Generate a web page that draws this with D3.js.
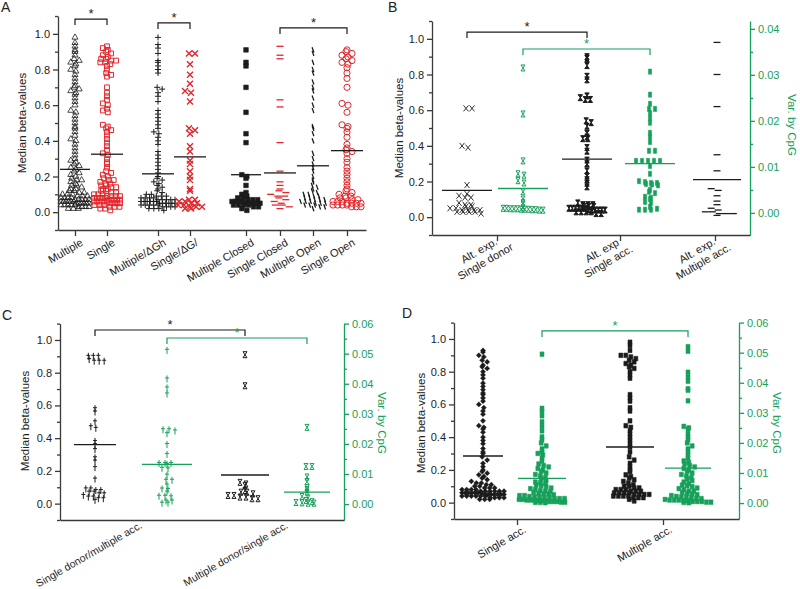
<!DOCTYPE html>
<html><head><meta charset="utf-8">
<script src="https://cdn.jsdelivr.net/npm/d3@7/dist/d3.min.js"></script>
<style>body{margin:0;background:#fff} svg{display:block} text{font-family:"Liberation Sans",Arial,sans-serif}</style>
</head><body><svg id="c" width="800" height="589"></svg>
<script>
// ---------------- DATA ----------------
// Panel A (median beta-values)
const A_categories = ["Multiple","Single","Multiple/ΔGh","Single/ΔG/","Multiple Closed","Single Closed","Multiple Open","Single Open"];
const A_multiple = [0.98,0.95,0.93,0.91,0.9,0.88,0.86,0.85,0.84,0.83,0.82,0.8,0.79,0.77,0.75,0.73,0.71,0.7,0.69,0.68,0.67,0.66,0.64,0.62,0.6,0.57,0.56,0.54,0.52,0.5,0.48,0.47,0.45,0.43,0.41,0.4,0.38,0.36,0.34,0.32,0.3,0.29,0.28,0.27,0.26,0.25,0.24,0.23,0.22,0.21,0.2,0.19,0.18,0.18,0.17,0.16,0.15,0.15,0.14,0.13,0.13,0.12,0.12,0.11,0.11,0.1,0.1,0.1,0.09,0.09,0.09,0.08,0.08,0.08,0.08,0.07,0.07,0.07,0.07,0.07,0.06,0.06,0.06,0.06,0.06,0.06,0.05,0.05,0.05,0.05,0.05,0.05,0.04,0.04,0.04,0.04,0.04,0.03,0.03,0.03,0.03,0.02,0.02,0.02];
const A_single = [0.93,0.92,0.91,0.9,0.89,0.88,0.87,0.86,0.86,0.85,0.85,0.84,0.84,0.83,0.82,0.8,0.78,0.77,0.76,0.7,0.67,0.65,0.63,0.61,0.6,0.58,0.57,0.56,0.49,0.48,0.47,0.46,0.45,0.43,0.41,0.39,0.37,0.35,0.33,0.32,0.3,0.28,0.27,0.25,0.23,0.22,0.21,0.2,0.19,0.18,0.18,0.17,0.16,0.16,0.15,0.15,0.14,0.14,0.13,0.13,0.12,0.12,0.11,0.11,0.1,0.1,0.1,0.09,0.09,0.09,0.09,0.08,0.08,0.08,0.08,0.08,0.07,0.07,0.07,0.07,0.07,0.06,0.06,0.06,0.06,0.06,0.05,0.05,0.05,0.05,0.04,0.04,0.04,0.03,0.03,0.03,0.02,0.02,0.01];
const A_multipleDG = [0.98,0.94,0.92,0.89,0.85,0.84,0.82,0.8,0.78,0.7,0.69,0.67,0.65,0.62,0.57,0.55,0.53,0.51,0.49,0.47,0.45,0.44,0.42,0.4,0.38,0.34,0.32,0.3,0.28,0.26,0.24,0.22,0.2,0.19,0.18,0.17,0.16,0.15,0.14,0.13,0.12,0.11,0.1,0.1,0.09,0.09,0.09,0.08,0.08,0.08,0.08,0.07,0.07,0.07,0.07,0.07,0.06,0.06,0.06,0.06,0.06,0.06,0.05,0.05,0.05,0.05,0.05,0.05,0.04,0.04,0.04,0.04,0.04,0.03,0.03,0.03,0.03,0.02,0.02,0.02,0.01];
const A_singleDG = [0.89,0.89,0.83,0.77,0.72,0.68,0.67,0.62,0.47,0.46,0.44,0.37,0.34,0.29,0.27,0.23,0.2,0.18,0.13,0.12,0.07,0.07,0.06,0.06,0.05,0.05,0.04,0.04,0.03,0.03,0.03,0.02,0.02];
const A_multipleClosed = [0.91,0.84,0.82,0.7,0.56,0.44,0.39,0.21,0.2,0.19,0.15,0.11,0.1,0.09,0.08,0.08,0.07,0.07,0.07,0.06,0.06,0.06,0.06,0.05,0.05,0.05,0.05,0.05,0.04,0.04,0.04,0.04,0.03,0.03,0.02,0.01];
const A_singleClosed = [0.93,0.88,0.86,0.63,0.59,0.39,0.23,0.17,0.15,0.13,0.12,0.11,0.1,0.09,0.09,0.08,0.07,0.06,0.05,0.04,0.04,0.03,0.02];
const A_multipleOpen = [0.91,0.89,0.84,0.8,0.78,0.73,0.7,0.68,0.64,0.6,0.57,0.48,0.47,0.44,0.4,0.33,0.3,0.27,0.25,0.23,0.2,0.18,0.17,0.15,0.14,0.13,0.12,0.11,0.1,0.1,0.09,0.09,0.08,0.08,0.07,0.07,0.07,0.06,0.06,0.06,0.05,0.05,0.05,0.04,0.04,0.04,0.03,0.03,0.02];
const A_singleOpen = [0.91,0.9,0.89,0.88,0.87,0.86,0.85,0.84,0.83,0.81,0.78,0.75,0.7,0.61,0.6,0.56,0.49,0.48,0.47,0.45,0.42,0.38,0.36,0.35,0.34,0.33,0.3,0.28,0.25,0.23,0.21,0.19,0.17,0.15,0.13,0.12,0.11,0.1,0.09,0.09,0.08,0.08,0.07,0.07,0.06,0.06,0.06,0.05,0.05,0.05,0.05,0.04,0.04,0.04,0.04,0.03,0.03,0.03];
const A_medians = [0.24,0.325,0.215,0.31,0.21,0.22,0.26,0.345];

// Panel B (black: median beta-values, green: Var. by CpG)
const B_categories = [["Alt. exp.","Single donor"],["Alt. exp","Single acc."],["Alt. exp.","Multiple acc."]];
const B_donorBeta = [0.61,0.61,0.4,0.39,0.18,0.13,0.12,0.11,0.11,0.08,0.07,0.07,0.06,0.06,0.05,0.05,0.04,0.04,0.04,0.04,0.03,0.03,0.03,0.03,0.02];
const B_donorVar = [0.0315,0.0215,0.0113,0.0085,0.0082,0.007,0.0065,0.0046,0.003,0.0022,0.0011,0.001,0.001,0.0009,0.0009,0.0009,0.0008,0.0008,0.0008,0.0007,0.0007,0.0006,0.0006];
const B_singleAccBeta = [0.9,0.89,0.85,0.79,0.77,0.68,0.67,0.66,0.66,0.54,0.53,0.51,0.47,0.45,0.44,0.44,0.39,0.37,0.32,0.3,0.26,0.23,0.21,0.19,0.17,0.08,0.07,0.07,0.07,0.06,0.06,0.06,0.05,0.05,0.05,0.05,0.05,0.05,0.04,0.04,0.04,0.04,0.04,0.04,0.03,0.03,0.03,0.03,0.02,0.02];
const B_singleAccVar = [0.0307,0.0257,0.0237,0.0226,0.0226,0.0217,0.0206,0.0196,0.0174,0.0165,0.0154,0.0135,0.0135,0.0113,0.0113,0.0113,0.0113,0.0113,0.0102,0.0085,0.0069,0.0067,0.0065,0.0065,0.0063,0.0062,0.006,0.005,0.0046,0.0043,0.0035,0.0033,0.003,0.0024,0.0022,0.0013,0.0007,0.0007,0.0007,0.0009];
const B_multiAccBeta = [0.98,0.8,0.62,0.35,0.26,0.16,0.15,0.12,0.09,0.07,0.05,0.04,0.03,0.03,0.02,0.02,0.02,0.01];
const B_medians = [0.15,0.0053,0.325,0.0107,0.21];

// Panel C
const C_categories = ["Single donor/multiple acc.","Multiple donor/single acc."];
const C_sdmaBeta = [0.9,0.9,0.9,0.88,0.87,0.87,0.87,0.58,0.56,0.5,0.47,0.46,0.38,0.36,0.33,0.28,0.26,0.22,0.15,0.09,0.09,0.08,0.08,0.07,0.07,0.06,0.06,0.05,0.04,0.04,0.03,0.03,0.02];
const C_sdmaVar = [0.0511,0.0416,0.0386,0.0366,0.0247,0.0247,0.0243,0.0234,0.0198,0.0165,0.0135,0.0135,0.0135,0.0132,0.0119,0.0117,0.0096,0.0079,0.0079,0.0063,0.005,0.0048,0.004,0.0026,0.0026,0.0024,0.001,0.001,0.0003,0.0003];
const C_mdsaBeta = [0.91,0.72,0.13,0.12,0.11,0.08,0.07,0.07,0.06,0.05,0.05,0.04,0.04,0.03,0.03];
const C_mdsaVar = [0.0255,0.0125,0.0125,0.009,0.0075,0.0055,0.0048,0.004,0.0025,0.002,0.0012,0.0008,0.0005,0.0004,0.0003,0.0003];
const C_medians = [0.36,0.0132,0.175,0.004];

// Panel D
const D_categories = ["Single acc.","Multiple acc."];
const D_singleBeta = [0.93,0.92,0.9,0.89,0.87,0.86,0.84,0.83,0.82,0.8,0.78,0.76,0.73,0.71,0.69,0.67,0.66,0.64,0.62,0.6,0.58,0.56,0.54,0.5,0.47,0.46,0.45,0.43,0.4,0.38,0.36,0.33,0.31,0.3,0.28,0.26,0.24,0.22,0.2,0.19,0.18,0.17,0.16,0.15,0.14,0.13,0.12,0.12,0.11,0.11,0.1,0.1,0.09,0.09,0.09,0.08,0.08,0.08,0.08,0.07,0.07,0.07,0.07,0.07,0.07,0.06,0.06,0.06,0.06,0.06,0.06,0.06,0.05,0.05,0.05,0.05,0.05,0.05,0.05,0.04,0.04,0.04,0.04,0.04,0.04,0.03,0.03,0.03,0.03,0.02,0.02,0.02];
const D_singleVar = [0.0495,0.0315,0.0305,0.029,0.027,0.0255,0.024,0.022,0.021,0.02,0.019,0.018,0.017,0.0165,0.016,0.015,0.014,0.013,0.0125,0.012,0.0115,0.011,0.0105,0.01,0.0095,0.009,0.0085,0.008,0.0075,0.007,0.0068,0.0065,0.006,0.0058,0.0055,0.005,0.0048,0.0045,0.0042,0.004,0.0038,0.0035,0.0032,0.003,0.003,0.0028,0.0025,0.0025,0.0022,0.002,0.002,0.0018,0.0018,0.0015,0.0015,0.0015,0.0012,0.0012,0.001,0.001,0.001,0.0008,0.0008,0.0008,0.0005,0.0005,0.0005,0.0003,0.0003,0.0002,0.0002,0.0001];
const D_multiBeta = [0.98,0.96,0.93,0.9,0.9,0.89,0.88,0.87,0.86,0.85,0.84,0.83,0.82,0.8,0.78,0.76,0.66,0.64,0.62,0.58,0.56,0.5,0.47,0.46,0.44,0.42,0.4,0.38,0.36,0.34,0.31,0.28,0.26,0.24,0.22,0.2,0.19,0.17,0.16,0.15,0.14,0.13,0.12,0.11,0.1,0.1,0.09,0.09,0.08,0.08,0.08,0.07,0.07,0.07,0.06,0.06,0.06,0.06,0.05,0.05,0.05,0.05,0.04,0.04,0.04,0.04,0.03,0.03,0.03,0.02,0.01];
const D_multiVar = [0.052,0.0505,0.0435,0.042,0.0405,0.038,0.0375,0.034,0.0255,0.025,0.0245,0.023,0.022,0.021,0.02,0.019,0.018,0.017,0.016,0.015,0.014,0.0135,0.013,0.0125,0.012,0.0115,0.011,0.0105,0.01,0.0095,0.009,0.0085,0.008,0.0075,0.007,0.0065,0.006,0.0058,0.0055,0.005,0.0048,0.0045,0.004,0.004,0.0035,0.0032,0.003,0.0028,0.0025,0.0022,0.002,0.002,0.0018,0.0015,0.0015,0.0012,0.001,0.001,0.001,0.0008,0.0008,0.0005,0.0005,0.0005,0.0003,0.0003,0.0002,0.0001];
const D_medians = [0.285,0.0082,0.34,0.0116];

const Y_ticks = [0,0.2,0.4,0.6,0.8,1.0];
const B_rightTicks = [0,0.01,0.02,0.03,0.04];
const CD_rightTicks = [0,0.01,0.02,0.03,0.04,0.05,0.06];

// ---------------- STYLE / LAYOUT ----------------
const BLACK = "#1c1c1c", RED = "#e3262b", GREEN = "#17a05a", AXIS = "#3a3a3a";
const SYM = {
  tri:  {d: d3.symbol(d3.symbolTriangle, 16)(), fill:false, sw:0.8},
  sq:   {d: "M-2.4,-2.4h4.8v4.8h-4.8z", fill:false, sw:1},
  plus: {d: "M-3,0h6M0,-3v6", fill:false, sw:1},
  xth:  {d: "M-3,-3L3,3M-3,3L3,-3", fill:false, sw:1.4},
  box:  {d: "M-2.3,-2.3h4.6v4.6h-4.6z", fill:true, sw:0.6},
  hd:   {d: "M-3.5,0h7", fill:false, sw:1.3},
  sl:   {d: "M-0.9,-2.6L0.9,2.6", fill:false, sw:1.3},
  circ: {d: d3.symbol(d3.symbolCircle, 30)(), fill:false, sw:1},
  x:    {d: "M-2.5,-3L2.5,3M-2.5,3L2.5,-3", fill:false, sw:0.9},
  hg:   {d: "M-2,-3H2L-2,3H2Z", fill:false, sw:1},
  hgf:  {d: "M-2.2,-3H2.2L-2.2,3H2.2Z", fill:true, sw:1},
  ib:   {d: "M-1.6,-2.6h3.2v5.2h-3.2z", fill:true, sw:0.5},
  dag:  {d: "M0,-3.5v7M-2,-1h4", fill:false, sw:1},
  dia:  {d: "M0,-2.6L2.6,0L0,2.6L-2.6,0Z", fill:true, sw:0.4},
  fsq:  {d: "M-2,-2.3h4v4.6h-4z", fill:true, sw:0.5}
};

function swarm(values, y, cx, hw, bin, sp) {
  const pts = values.map(v => ({v, y: y(v)}));
  const bins = d3.group(pts, p => Math.round(p.y / bin));
  for (const [k, arr] of bins) {
    const n = arr.length;
    const s = n > 1 ? Math.min(sp, 2 * hw / (n - 1)) : 0;
    const shift = (n < 2 * hw / sp) ? ((k % 2) ? s / 3 : -s / 3) : 0;
    arr.forEach((p, i) => { p.x = cx + (i - (n - 1) / 2) * s + shift; });
  }
  return pts;
}

const svg = d3.select("#c");
const fmt1 = d3.format(".1f"), fmt2 = d3.format(".2f");
const range = (a, b, s) => d3.range(a, b + s / 2, s);

function panel(p) {
  const g = svg.append("g");
  const yL = d3.scaleLinear().domain([-0.1, 1.1]).range([p.yBot, p.yTop]);
  const yR = p.rDomain ? d3.scaleLinear().domain(p.rDomain).range([p.yBot, p.yTop]) : null;
  const xs = d3.scaleOrdinal().domain(p.groups.map((d, i) => i)).range(p.groups.map(d => d.cx));

  p.groups.forEach((gr, i) => {
    const ys = gr.axis === "R" ? yR : yL;
    const col = gr.color, s = SYM[gr.sym];
    const pts = swarm(gr.values, ys, xs(i), gr.hw, gr.bin || 3.5, gr.sp || 5);
    const gg = g.append("g");
    gg.selectAll("path").data(pts).join("path")
      .attr("transform", d => `translate(${d.x},${d.y})`)
      .attr("d", s.d)
      .attr("fill", s.fill ? col : "none")
      .attr("stroke", col).attr("stroke-width", s.sw);
    g.append("line")
      .attr("x1", xs(i) - gr.mhw).attr("x2", xs(i) + gr.mhw)
      .attr("y1", ys(p.medians[i])).attr("y2", ys(p.medians[i]))
      .attr("stroke", col === RED ? BLACK : col).attr("stroke-width", 1.3);
  });

  const aL = g.append("g").attr("transform", `translate(${p.xL},0)`)
    .call(d3.axisLeft(yL).tickValues(Y_ticks).tickFormat(fmt1).tickSize(5).tickSizeOuter(0));
  g.append("g").attr("transform", `translate(${p.xL},0)`)
    .call(d3.axisLeft(yL).tickValues(range(-0.1, 1.1, 0.2)).tickFormat("").tickSize(3).tickSizeOuter(0))
    .select(".domain").remove();
  if (yR) {
    g.append("g").attr("transform", `translate(${p.xR},0)`)
      .call(d3.axisRight(yR).tickValues(p.rTicks).tickFormat(fmt2).tickSize(5).tickSizeOuter(0))
      .attr("class", "raxis");
    g.append("g").attr("transform", `translate(${p.xR},0)`)
      .call(d3.axisRight(yR).tickValues(p.rTicks.slice(0, -1).map(t => t + 0.005)).tickFormat("").tickSize(3).tickSizeOuter(0))
      .attr("class", "raxis").select(".domain").remove();
    g.selectAll(".raxis path, .raxis line").attr("stroke", GREEN).attr("stroke-width", 1.3);
    g.selectAll(".raxis text").attr("fill", GREEN).attr("font-size", 11).attr("font-family", '"Liberation Sans",Arial,sans-serif');
    g.append("text").attr("transform", `translate(${p.rLabel[0]},${p.rLabel[1]}) rotate(90)`)
      .attr("text-anchor", "middle").attr("fill", GREEN).attr("font-size", 11.5).text("Var. by CpG");
  }
  const xb = d3.scaleLinear().domain([p.xL, p.xEnd]).range([p.xL, p.xEnd]);
  g.append("g").attr("transform", `translate(0,${p.yBot})`)
    .call(d3.axisBottom(xb).tickValues(p.ticks.map(t => t.x)).tickFormat("").tickSize(p.tickLen).tickSizeOuter(0));
  g.selectAll("path.domain, .tick line").filter(function(){return !this.closest(".raxis");})
    .attr("stroke", AXIS).attr("stroke-width", 1.3);
  aL.selectAll("text").attr("font-size", 11).attr("fill", "#222").attr("font-family", '"Liberation Sans",Arial,sans-serif');

  p.ticks.forEach(t => {
    const tx = g.append("text").attr("font-size", p.labSize || 11).attr("fill", "#222")
      .attr("text-anchor", p.labAnchor)
      .attr("transform", `translate(${t.x + p.labOff[0]},${p.yBot + p.labOff[1]}) rotate(-30)`);
    const lines = Array.isArray(t.text) ? t.text : [t.text];
    lines.forEach((ln, j) => tx.append("tspan").attr("x", 0).attr("dy", j === 0 ? "0.71em" : "1.15em").text(ln));
  });

  g.append("text").attr("transform", `translate(${p.yLabel[0]},${p.yLabel[1]}) rotate(-90)`)
    .attr("text-anchor", "middle").attr("font-size", 11.5).attr("fill", "#222").text("Median beta-values");

  p.brackets.forEach(b => {
    const x1 = xs(b.a), x2 = xs(b.b), y = yL(b.y);
    g.append("path").attr("d", `M${x1},${y + 6}V${y}H${x2}V${y + 6}`)
      .attr("fill", "none").attr("stroke", b.color).attr("stroke-width", 1.2);
    g.append("text").attr("x", (x1 + x2) / 2).attr("y", y - 1).attr("text-anchor", "middle")
      .attr("font-size", 13).attr("fill", b.color).text("*");
  });

  g.append("text").attr("x", p.panelLab[0]).attr("y", p.panelLab[1]).attr("font-size", 14).attr("fill", "#222").text(p.name);
}

panel({
  name: "A", panelLab: [1, 12], xL: 58, xEnd: 366, yTop: 16, yBot: 230, tickLen: 6,
  yLabel: [26, 123], labAnchor: "end", labOff: [5, 8],
  ticks: A_categories.map((c, i) => ({text: c, x: [75,107,158,190,246,280,313,347][i]})),
  medians: A_medians,
  groups: [
    {values: A_multiple, cx: 75, hw: 14, mhw: 15, sym: "tri", color: BLACK},
    {values: A_single, cx: 107, hw: 13, mhw: 16, sym: "sq", color: RED},
    {values: A_multipleDG, cx: 158, hw: 17, mhw: 16, sym: "plus", color: BLACK},
    {values: A_singleDG, cx: 190, hw: 15, mhw: 16, sym: "xth", color: RED, sp: 6},
    {values: A_multipleClosed, cx: 246, hw: 14, mhw: 15, sym: "box", color: BLACK},
    {values: A_singleClosed, cx: 280, hw: 14, mhw: 16, sym: "hd", color: RED, sp: 7},
    {values: A_multipleOpen, cx: 313, hw: 14, mhw: 16, sym: "sl", color: BLACK},
    {values: A_singleOpen, cx: 347, hw: 14, mhw: 16, sym: "circ", color: RED, sp: 6}
  ],
  brackets: [
    {a: 0, b: 1, y: 1.083, color: BLACK},
    {a: 2, b: 3, y: 1.061, color: BLACK},
    {a: 5, b: 7, y: 1.033, color: BLACK}
  ]
});

panel({
  name: "B", panelLab: [388, 12], xL: 432, xR: 750, xEnd: 750, yTop: 21, yBot: 235, tickLen: 6,
  rDomain: [-0.0048, 0.0417], rTicks: B_rightTicks, rLabel: [788, 125],
  yLabel: [403, 128], labAnchor: "middle", labOff: [-20, 12],
  ticks: B_categories.map((c, i) => ({text: c, x: [497,620,715][i]})),
  medians: B_medians,
  groups: [
    {values: B_donorBeta, cx: 467, hw: 22, mhw: 25, sym: "x", color: BLACK, sp: 6},
    {values: B_donorVar, axis: "R", cx: 523, hw: 20, mhw: 25, sym: "hg", color: GREEN, sp: 6},
    {values: B_singleAccBeta, cx: 587, hw: 18, mhw: 25, sym: "hgf", color: BLACK},
    {values: B_singleAccVar, axis: "R", cx: 650, hw: 20, mhw: 25, sym: "ib", color: GREEN, sp: 6},
    {values: B_multiAccBeta, cx: 717, hw: 20, mhw: 24, sym: "hd", color: BLACK, sp: 7}
  ],
  brackets: [
    {a: 0, b: 2, y: 1.038, color: BLACK},
    {a: 1, b: 3, y: 0.943, color: GREEN}
  ]
});

panel({
  name: "C", panelLab: [2, 320], xL: 60, xR: 344, xEnd: 344, yTop: 323.6, yBot: 520, tickLen: 0,
  rDomain: [-0.0053, 0.06], rTicks: CD_rightTicks, rLabel: [378, 423],
  yLabel: [29, 421], labAnchor: "end", labOff: [9, 1], labSize: 10.5,
  ticks: C_categories.map((c, i) => ({text: c, x: [130,276][i]})),
  medians: C_medians,
  groups: [
    {values: C_sdmaBeta, cx: 95, hw: 17, mhw: 21, sym: "dag", color: BLACK},
    {values: C_sdmaVar, axis: "R", cx: 167, hw: 22, mhw: 25, sym: "dag", color: GREEN, sp: 6},
    {values: C_mdsaBeta, cx: 245, hw: 20, mhw: 24, sym: "hg", color: BLACK, sp: 6},
    {values: C_mdsaVar, axis: "R", cx: 307, hw: 20, mhw: 23, sym: "hg", color: GREEN, sp: 6}
  ],
  brackets: [
    {a: 0, b: 2, y: 1.061, color: BLACK},
    {a: 1, b: 3, y: 1.012, color: GREEN}
  ]
});

panel({
  name: "D", panelLab: [402, 318], xL: 454, xR: 739, xEnd: 739, yTop: 322.6, yBot: 519, tickLen: 6,
  rDomain: [-0.0053, 0.06], rTicks: CD_rightTicks, rLabel: [773, 423],
  yLabel: [425, 423], labAnchor: "end", labOff: [6, 6],
  ticks: D_categories.map((c, i) => ({text: c, x: [517,663][i]})),
  medians: D_medians,
  groups: [
    {values: D_singleBeta, cx: 483, hw: 21, mhw: 20, sym: "dia", color: BLACK},
    {values: D_singleVar, axis: "R", cx: 542, hw: 23, mhw: 24, sym: "fsq", color: GREEN},
    {values: D_multiBeta, cx: 630, hw: 22, mhw: 24, sym: "fsq", color: BLACK},
    {values: D_multiVar, axis: "R", cx: 688, hw: 23, mhw: 23, sym: "fsq", color: GREEN}
  ],
  brackets: [
    {a: 1, b: 3, y: 1.049, color: GREEN}
  ]
});
</script>
</body></html>
